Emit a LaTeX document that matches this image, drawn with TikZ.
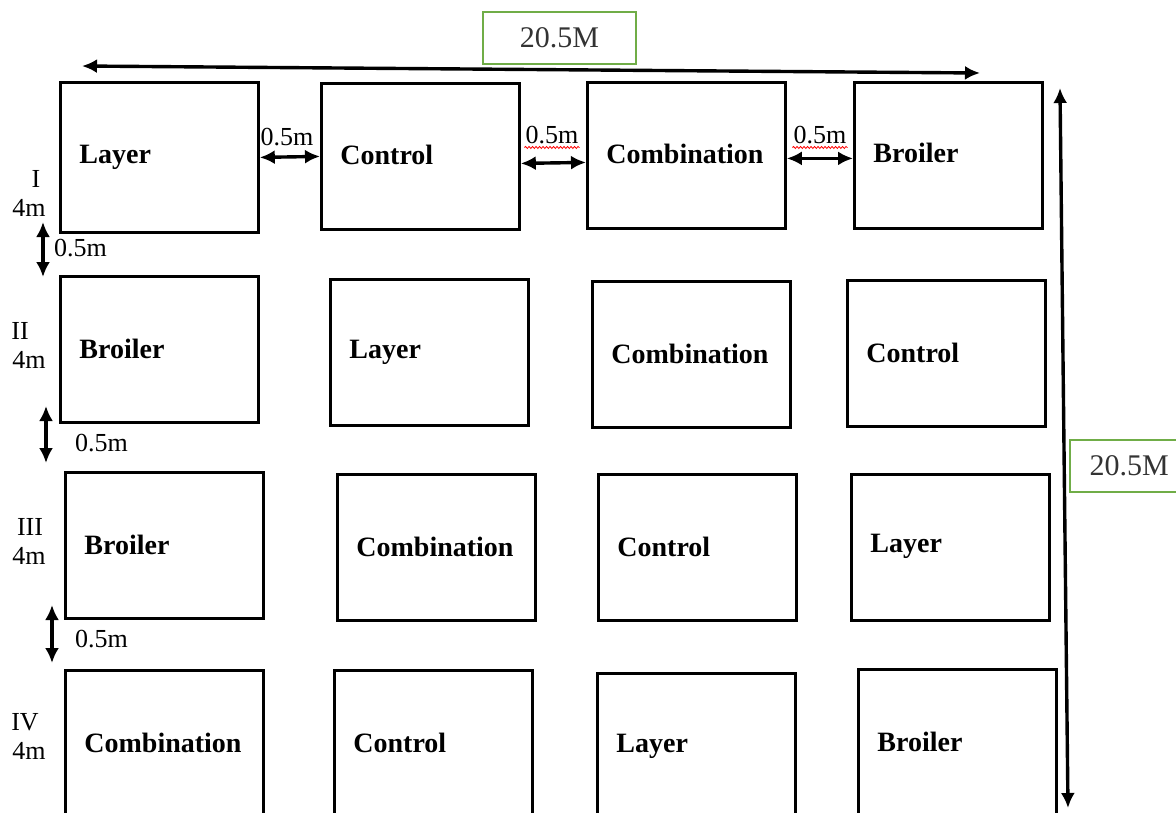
\documentclass[tikz,border=0pt]{standalone}
\usepackage{fontspec}
\setmainfont{Liberation Serif}
\usepackage{xcolor}
\usetikzlibrary{arrows.meta, decorations.pathmorphing}

\definecolor{tagreen}{RGB}{112,173,71}

\begin{document}
\begin{tikzpicture}[x=1pt, y=-1pt,
    room/.style={draw, line width=2.8pt, anchor=north west, text width=160pt,
      inner xsep=19pt, align=left, minimum height=146pt,
      font=\fontsize{28}{30}\selectfont\bfseries},
    dim/.style={<->, line width=3.4pt, >={Latex[length=15pt, width=14pt]}},
    gap/.style={font=\fontsize{26}{28}\selectfont, inner sep=1pt},
    tag/.style={draw=tagreen, line width=2.4pt, text=black!80,
      font=\fontsize{30}{32}\selectfont, minimum width=153pt, minimum height=52pt},
    squiggle/.style={red, line width=0.8pt, decorate,
      decoration={snake, amplitude=1pt, segment length=3.5pt}}]

    \useasboundingbox (0,0) rectangle (1176,812);

    % row I
    \node[room, minimum height=150pt] (l1) at (59,81) {Layer};
    \node[room] (c1) at (320,82) {\raisebox{3pt}{Control}};
    \node[room] (m1) at (586,81) {\raisebox{3pt}{Combination}};
    \node[room, text width=150pt] (b1) at (853,81) {\raisebox{5pt}{Broiler}};

    % row II
    \node[room] (b2) at (59,275) {Broiler};
    \node[room] (l2) at (329,278) {Layer};
    \node[room] (m2) at (591,280) {Combination};
    \node[room] (c2) at (846,279) {Control};

    % row III
    \node[room] (b3) at (64,471) {Broiler};
    \node[room] (m3) at (336,473) {Combination};
    \node[room] (c3) at (597,473) {Control};
    \node[room] (l3) at (850,473) {\raisebox{8pt}{Layer}};

    % row IV
    \node[room] (m4) at (64,669) {Combination};
    \node[room] (c4) at (333,669) {Control};
    \node[room] (l4) at (596,672) {Layer};
    \node[room] (b4) at (857,668) {Broiler};

    % row names
    \node[gap] (n1) at (36,179) {I};
    \node[gap] (d1) at (29,208) {4m};
    \node[gap] (n2) at (20,331) {II};
    \node[gap] (d2) at (29,360) {4m};
    \node[gap] (n3) at (30,527) {III};
    \node[gap] (d3) at (29,556) {4m};
    \node[gap] (n4) at (25,722) {IV};
    \node[gap] (d4) at (29,751) {4m};

    % gaps in row I
    \draw[dim] (l1.east) -- (c1.west);
    \draw[dim] ([yshift=-7pt]c1.east) -- ([yshift=-7pt]m1.west);
    \draw[dim] ([yshift=-3pt]m1.east) -- ([yshift=-3pt]b1.west);
    \node[gap] (g1) at (287,137) {0.5m};
    \node[gap] (g2) at (552,135) {0.5m};
    \node[gap] (g3) at (820,135) {0.5m};
    \draw[squiggle] ([yshift=-4pt]g2.base west) -- ([yshift=-4pt]g2.base east);
    \draw[squiggle] ([yshift=-4pt]g3.base west) -- ([yshift=-4pt]g3.base east);

    % gaps between rows
    \coordinate (v1t) at (43,222);
    \coordinate (v1b) at (43,277);
    \coordinate (v2t) at (46,406);
    \coordinate (v2b) at (46,463);
    \coordinate (v3t) at (52,605);
    \coordinate (v3b) at (52,663);
    \draw[dim] (v1t) -- (v1b);
    \draw[dim] (v2t) -- (v2b);
    \draw[dim] (v3t) -- (v3b);
    \node[gap, anchor=west] (h1) at (53,248) {0.5m};
    \node[gap, anchor=west] (h2) at (74,443) {0.5m};
    \node[gap, anchor=west] (h3) at (74,639) {0.5m};

    % overall size
    \coordinate (wl) at (82,66);
    \coordinate (wr) at (980,73);
    \coordinate (lt) at (1060,88);
    \coordinate (lb) at (1068,808);
    \draw[dim] (wl) -- (wr);
    \draw[dim] (lt) -- (lb);
    \node[tag] (wtag) at (559.5,38) {20.5M};
    \node[tag, anchor=west, minimum width=118pt] (ltag) at (1069,466) {20.5M};

\end{tikzpicture}
\end{document}
